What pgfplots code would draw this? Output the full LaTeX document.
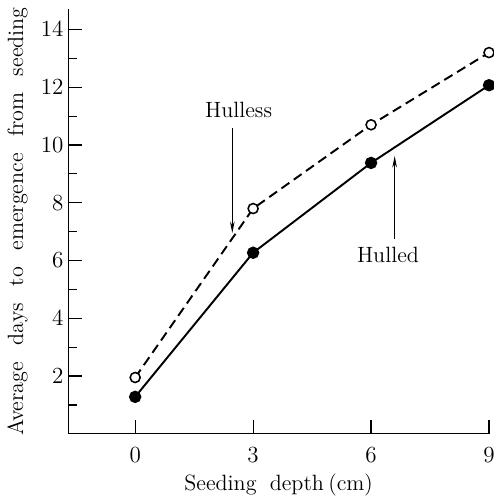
\documentclass[border=0pt]{standalone}
\usepackage{pgfplots}
\pgfplotsset{compat=1.18}
\usetikzlibrary{arrows.meta,calc}

\begin{document}
\fontsize{11.5}{14}\selectfont
\begin{tikzpicture}
\begin{axis}[
  scale only axis,
  width=218bp, height=220bp,
  xmin=-1.7, xmax=9,
  ymin=0, ymax=14.7,
  axis x line*=bottom, axis y line*=left,
  axis line style={line width=0.6bp},
  xtick={0,3,6,9},
  ytick={2,4,...,14},
  minor ytick={1,3,...,13},
  tick align=inside,
  major tick length=7bp, minor tick length=4.5bp,
  tick style={black, line width=0.6bp},
  xticklabel style={yshift=-3bp},
  yticklabel style={xshift=1.5bp},
  xlabel={Seeding\hspace{0.6em}depth\hspace{0.2em}(cm)},
  xlabel style={yshift=2bp},
  ylabel={Average\hspace{0.75em}days\hspace{0.75em}to\hspace{0.75em}emergence\hspace{0.75em}from\hspace{0.75em}seeding},
  ylabel style={yshift=-1bp},
  clip=false,
]
  % hulless
  \addplot[black, line width=1bp, dash pattern=on 5bp off 2.8bp,
    mark=*, mark size=2.6bp, mark options={solid, fill=white, line width=0.8bp}]
    coordinates {(0,1.95) (3,7.8) (6,10.7) (9,13.2)};
  % hulled
  \addplot[black, line width=1bp,
    mark=*, mark size=2.7bp, mark options={fill=black}]
    coordinates {(0,1.28) (3,6.27) (6,9.38) (9,12.07)};

  \node at (axis cs:2.63,11.2) {Hulless};
  \draw[line width=0.5bp, -{Stealth[length=6bp,width=2.4bp]}] (axis cs:2.47,10.6) -- (axis cs:2.47,6.95);
  \node at (axis cs:6.43,6.2) {Hulled};
  \draw[line width=0.5bp, -{Stealth[length=6bp,width=2.4bp]}] (axis cs:6.6,6.75) -- (axis cs:6.6,9.62);
\end{axis}
\pgfresetboundingbox
\path (current axis.outer south west) rectangle ($(current axis.south east |- current axis.outer north east)+(2.5bp,0)$);
\end{tikzpicture}
\end{document}
